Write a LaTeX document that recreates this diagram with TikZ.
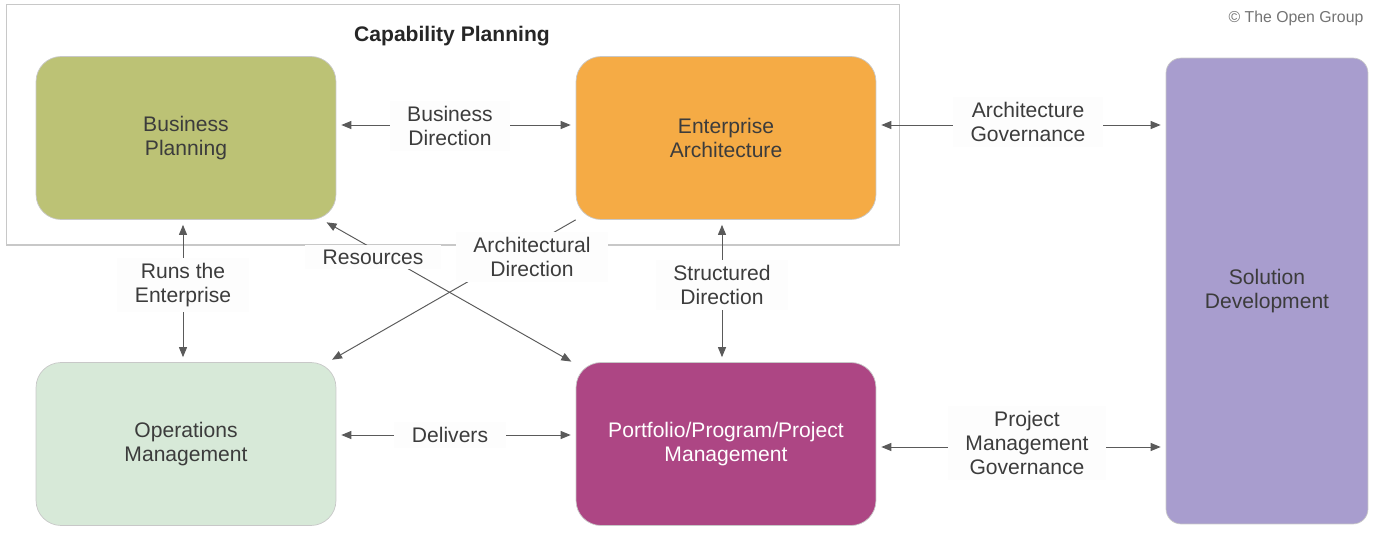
\documentclass[tikz,border=0pt]{standalone}
\usepackage{fontspec}
\setmainfont{Liberation Sans}
\usepackage{xcolor}
\definecolor{cap-business}{HTML}{BCC275}
\definecolor{cap-enterprise}{HTML}{F5AB45}
\definecolor{cap-operations}{HTML}{D7E9D8}
\definecolor{cap-portfolio}{HTML}{AD4684}
\definecolor{cap-solution}{HTML}{A89DCE}
\definecolor{cap-ink}{HTML}{3C3C3C}
\definecolor{cap-line}{HTML}{5A5A5A}
\definecolor{cap-edge}{HTML}{C8C8C8}
\definecolor{cap-paper}{HTML}{FDFDFD}
\usetikzlibrary{arrows.meta,positioning,calc}

\begin{document}
\begin{tikzpicture}[
    x=0.02cm, y=-0.02cm,
    font=\fontsize{12}{13.6}\selectfont,
    >={Triangle[length=2mm, width=1.6mm]},
    block/.style={rounded corners=0.5cm, draw=cap-edge, line width=0.4pt, minimum width=6cm, minimum height=3.26cm, align=center, text=cap-ink},
    tag/.style={fill=cap-paper, align=center, text=cap-ink, inner xsep=0.35cm, inner ysep=0.1cm},
    link/.style={draw=cap-line, line width=0.55pt, shorten <=0.1cm, shorten >=0.1cm},
]
\path[use as bounding box] (0,0) rectangle (1384,535);

% capability planning frame
\node[draw=cap-edge, line width=0.6pt, minimum width=17.88cm, minimum height=4.82cm] (capframe) at (453,124.5) {};
\node[font=\bfseries\fontsize{12}{13.6}\selectfont, text=black!85] (captitle) at (452,36) {Capability Planning};
\node[font=\fontsize{9}{11}\selectfont, text=black!55] (copy) at (1296,18) {\textcopyright{} The Open Group};

% blocks
\node[block, fill=cap-business] (bp) at (186,138) {Business\\Planning};
\node[block, fill=cap-enterprise] (ea) at (726,138) {Enterprise\\Architecture};
\node[block, fill=cap-operations] (om) at (186,444) {Operations\\Management};
\node[block, fill=cap-portfolio, text=white] (ppm) at (726,444) {Portfolio/Program/Project\\Management};
\node[block, fill=cap-solution, rounded corners=0.3cm, minimum width=4.04cm, minimum height=9.32cm] (sd) at (1267,291) {Solution\\Development};

% connectors
\coordinate (agovl) at ([yshift=0.26cm]ea.east);
\coordinate (pmgovl) at ([yshift=-0.06cm]ppm.east);
\draw[link, <->] ([yshift=0.26cm]bp.east) -- ([yshift=0.26cm]ea.west);
\draw[link, <->] (agovl) -- (agovl -| sd.west);
\draw[link, <->] ([yshift=0.18cm]om.east) -- ([yshift=0.18cm]ppm.west);
\draw[link, <->] (pmgovl) -- (pmgovl -| sd.west);
\draw[link, <->] ([xshift=-0.06cm]bp.south) -- ([xshift=-0.06cm]om.north);
\draw[link, <->] ([xshift=-0.08cm]ea.south) -- ([xshift=-0.08cm]ppm.north);
\draw[link, <->] (bp.-31) -- (ppm.152);
\draw[link, ->, shorten <=0pt] (ea.south west) -- (om.30);

% labels
\node[tag] (bdir) at (450,126) {Business\\Direction};
\node[tag] (agov) at (1028,122) {Architecture\\Governance};
\node[tag] (runs) at (183,285) {Runs the\\Enterprise};
\node[tag] (res) at (373,257) {Resources};
\node[tag] (adir) at (532,257) {Architectural\\Direction};
\node[tag] (sdir) at (722,285) {Structured\\Direction};
\node[tag] (deliv) at (450,435) {Delivers};
\node[tag] (pmgov) at (1027,443) {Project\\Management\\Governance};
\end{tikzpicture}
\end{document}
